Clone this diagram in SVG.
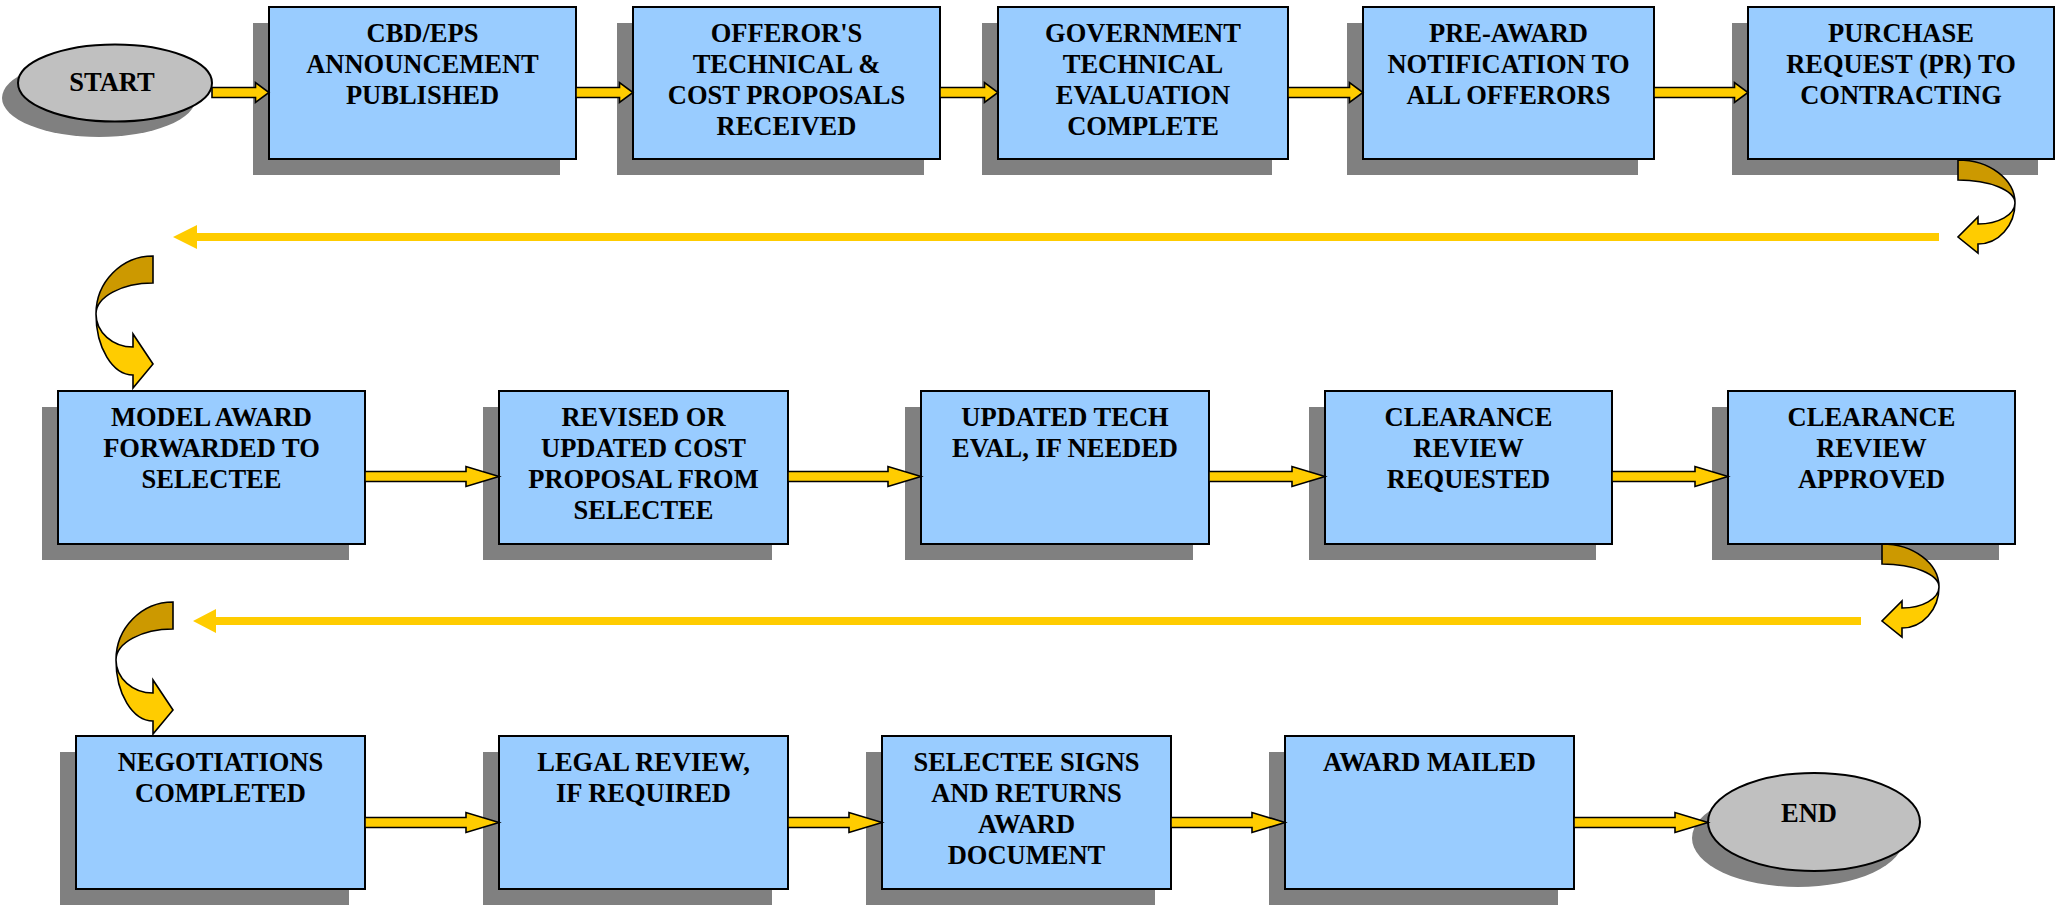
<svg xmlns="http://www.w3.org/2000/svg" width="2065" height="907" viewBox="0 0 2065 907">
  <style>
    .box { fill: #99CCFF; stroke: #000; stroke-width: 2; }
    .oval { fill: #C0C0C0; stroke: #000; stroke-width: 2; }
    .shadow { fill: #808080; }
    .lbl { font-family: "Liberation Serif", "Times New Roman", serif; font-weight: bold; font-size: 26.5px; fill: #000; text-anchor: middle; }
    .blk { fill: #FFCC00; stroke: #000; stroke-width: 1.6; stroke-linejoin: miter; }
    .long { fill: #FFCC00; stroke: none; }
    .back { fill: #CC9900; stroke: #000; stroke-width: 1.6; }
    .front { fill: #FFCC00; stroke: #000; stroke-width: 1.6; }
  </style>
  <defs>
    <!-- U-turn ribbon arrow, bending right then pointing back left -->
    <g id="turnRight">
      <path class="back" d="M0,0 C31.5,0 57,19.3 57,43 C57,30.3 31.5,20 0,20 Z"/>
      <path class="front" d="M57,43 C57,65.6 40.4,84 20,84 L20,93 L0,77 L20,57 L20,64 C40.4,64 57,54.6 57,43 Z"/>
    </g>
    <!-- U-turn ribbon arrow, bending left then pointing down-right -->
    <g id="turnLeft">
      <path class="back" d="M0,0 C-31.5,0 -57,26 -57,58 C-57,41 -31.5,27 0,27 Z"/>
      <path class="front" d="M-57,58 C-57,91.7 -40.4,119 -20,119 L-20,132 L0,108 L-20,78 L-20,91 C-40.4,91 -57,76.2 -57,58 Z"/>
    </g>
  </defs>
  <rect width="2065" height="907" fill="#fff"/>

  <!-- Row 1 -->
  <g id="start">
    <ellipse class="shadow" cx="99" cy="98" rx="97" ry="39"/>
    <ellipse class="oval" cx="115" cy="83" rx="97" ry="38.5"/>
    <text class="lbl" x="112" y="91">START</text>
  </g>
  <g id="n1">
    <rect class="shadow" x="253" y="23" width="307" height="152"/>
    <rect class="box" x="269" y="7" width="307" height="152"/>
    <text class="lbl" x="422.5" y="41.5">CBD/EPS</text>
    <text class="lbl" x="422.5" y="72.5">ANNOUNCEMENT</text>
    <text class="lbl" x="422.5" y="103.5">PUBLISHED</text>
  </g>
  <g id="n2">
    <rect class="shadow" x="617" y="23" width="307" height="152"/>
    <rect class="box" x="633" y="7" width="307" height="152"/>
    <text class="lbl" x="786.5" y="41.5">OFFEROR'S</text>
    <text class="lbl" x="786.5" y="72.5">TECHNICAL &amp;</text>
    <text class="lbl" x="786.5" y="103.5">COST PROPOSALS</text>
    <text class="lbl" x="786.5" y="134.5">RECEIVED</text>
  </g>
  <g id="n3">
    <rect class="shadow" x="982" y="23" width="290" height="152"/>
    <rect class="box" x="998" y="7" width="290" height="152"/>
    <text class="lbl" x="1143" y="41.5">GOVERNMENT</text>
    <text class="lbl" x="1143" y="72.5">TECHNICAL</text>
    <text class="lbl" x="1143" y="103.5">EVALUATION</text>
    <text class="lbl" x="1143" y="134.5">COMPLETE</text>
  </g>
  <g id="n4">
    <rect class="shadow" x="1347" y="23" width="291" height="152"/>
    <rect class="box" x="1363" y="7" width="291" height="152"/>
    <text class="lbl" x="1508.5" y="41.5">PRE-AWARD</text>
    <text class="lbl" x="1508.5" y="72.5">NOTIFICATION TO</text>
    <text class="lbl" x="1508.5" y="103.5">ALL OFFERORS</text>
  </g>
  <g id="n5">
    <rect class="shadow" x="1732" y="23" width="306" height="152"/>
    <rect class="box" x="1748" y="7" width="306" height="152"/>
    <text class="lbl" x="1901" y="41.5">PURCHASE</text>
    <text class="lbl" x="1901" y="72.5">REQUEST (PR) TO</text>
    <text class="lbl" x="1901" y="103.5">CONTRACTING</text>
  </g>

  <!-- Row 2 -->
  <g id="n6">
    <rect class="shadow" x="42" y="407" width="307" height="153"/>
    <rect class="box" x="58" y="391" width="307" height="153"/>
    <text class="lbl" x="211.5" y="425.5">MODEL AWARD</text>
    <text class="lbl" x="211.5" y="456.5">FORWARDED TO</text>
    <text class="lbl" x="211.5" y="487.5">SELECTEE</text>
  </g>
  <g id="n7">
    <rect class="shadow" x="483" y="407" width="289" height="153"/>
    <rect class="box" x="499" y="391" width="289" height="153"/>
    <text class="lbl" x="643.5" y="425.5">REVISED OR</text>
    <text class="lbl" x="643.5" y="456.5">UPDATED COST</text>
    <text class="lbl" x="643.5" y="487.5">PROPOSAL FROM</text>
    <text class="lbl" x="643.5" y="518.5">SELECTEE</text>
  </g>
  <g id="n8">
    <rect class="shadow" x="905" y="407" width="288" height="153"/>
    <rect class="box" x="921" y="391" width="288" height="153"/>
    <text class="lbl" x="1065" y="425.5">UPDATED TECH</text>
    <text class="lbl" x="1065" y="456.5">EVAL, IF NEEDED</text>
  </g>
  <g id="n9">
    <rect class="shadow" x="1309" y="407" width="287" height="153"/>
    <rect class="box" x="1325" y="391" width="287" height="153"/>
    <text class="lbl" x="1468.5" y="425.5">CLEARANCE</text>
    <text class="lbl" x="1468.5" y="456.5">REVIEW</text>
    <text class="lbl" x="1468.5" y="487.5">REQUESTED</text>
  </g>
  <g id="n10">
    <rect class="shadow" x="1712" y="407" width="287" height="153"/>
    <rect class="box" x="1728" y="391" width="287" height="153"/>
    <text class="lbl" x="1871.5" y="425.5">CLEARANCE</text>
    <text class="lbl" x="1871.5" y="456.5">REVIEW</text>
    <text class="lbl" x="1871.5" y="487.5">APPROVED</text>
  </g>

  <!-- Row 3 -->
  <g id="n11">
    <rect class="shadow" x="60" y="752" width="289" height="153"/>
    <rect class="box" x="76" y="736" width="289" height="153"/>
    <text class="lbl" x="220.5" y="771">NEGOTIATIONS</text>
    <text class="lbl" x="220.5" y="802">COMPLETED</text>
  </g>
  <g id="n12">
    <rect class="shadow" x="483" y="752" width="289" height="153"/>
    <rect class="box" x="499" y="736" width="289" height="153"/>
    <text class="lbl" x="643.5" y="771">LEGAL REVIEW,</text>
    <text class="lbl" x="643.5" y="802">IF REQUIRED</text>
  </g>
  <g id="n13">
    <rect class="shadow" x="866" y="752" width="289" height="153"/>
    <rect class="box" x="882" y="736" width="289" height="153"/>
    <text class="lbl" x="1026.5" y="771">SELECTEE SIGNS</text>
    <text class="lbl" x="1026.5" y="802">AND RETURNS</text>
    <text class="lbl" x="1026.5" y="833">AWARD</text>
    <text class="lbl" x="1026.5" y="864">DOCUMENT</text>
  </g>
  <g id="n14">
    <rect class="shadow" x="1269" y="752" width="289" height="153"/>
    <rect class="box" x="1285" y="736" width="289" height="153"/>
    <text class="lbl" x="1429.5" y="771">AWARD MAILED</text>
  </g>
  <g id="end">
    <ellipse class="shadow" cx="1798" cy="838" rx="106" ry="49"/>
    <ellipse class="oval" cx="1814" cy="822" rx="106" ry="49"/>
    <text class="lbl" x="1809" y="821.5">END</text>
  </g>

  <g id="connectors">
    <!-- row 1 block arrows -->
    <polygon class="blk" points="212,87.5 255.5,87.5 255.5,82.5 269,92.5 255.5,102.5 255.5,97.5 212,97.5"/>
    <polygon class="blk" points="576,87.5 619.5,87.5 619.5,82.5 633,92.5 619.5,102.5 619.5,97.5 576,97.5"/>
    <polygon class="blk" points="940,87.5 984.5,87.5 984.5,82.5 998,92.5 984.5,102.5 984.5,97.5 940,97.5"/>
    <polygon class="blk" points="1288,87.5 1349.5,87.5 1349.5,82.5 1363,92.5 1349.5,102.5 1349.5,97.5 1288,97.5"/>
    <polygon class="blk" points="1654,87.5 1734.5,87.5 1734.5,82.5 1748,92.5 1734.5,102.5 1734.5,97.5 1654,97.5"/>

    <!-- turn from row 1 to row 2 -->
    <use href="#turnRight" x="1958" y="160"/>
    <polygon class="long" points="1939,233 197,233 197,225 173,237 197,249 197,241 1939,241"/>
    <use href="#turnLeft" x="153" y="256"/>

    <!-- row 2 block arrows -->
    <polygon class="blk" points="365,471.5 466,471.5 466,466.5 499,476.5 466,486.5 466,481.5 365,481.5"/>
    <polygon class="blk" points="788,471.5 888,471.5 888,466.5 921,476.5 888,486.5 888,481.5 788,481.5"/>
    <polygon class="blk" points="1209,471.5 1292,471.5 1292,466.5 1325,476.5 1292,486.5 1292,481.5 1209,481.5"/>
    <polygon class="blk" points="1612,471.5 1695,471.5 1695,466.5 1728,476.5 1695,486.5 1695,481.5 1612,481.5"/>

    <!-- turn from row 2 to row 3 -->
    <use href="#turnRight" x="1882" y="544"/>
    <polygon class="long" points="1861,617 216,617 216,609 193,621 216,633 216,625 1861,625"/>
    <use href="#turnLeft" x="173" y="602"/>

    <!-- row 3 block arrows -->
    <polygon class="blk" points="365,817.5 466,817.5 466,812.5 499,822.5 466,832.5 466,827.5 365,827.5"/>
    <polygon class="blk" points="788,817.5 849,817.5 849,812.5 882,822.5 849,832.5 849,827.5 788,827.5"/>
    <polygon class="blk" points="1171,817.5 1252,817.5 1252,812.5 1285,822.5 1252,832.5 1252,827.5 1171,827.5"/>
    <polygon class="blk" points="1574,817.5 1675,817.5 1675,812.5 1708,822.5 1675,832.5 1675,827.5 1574,827.5"/>
  </g>
</svg>
